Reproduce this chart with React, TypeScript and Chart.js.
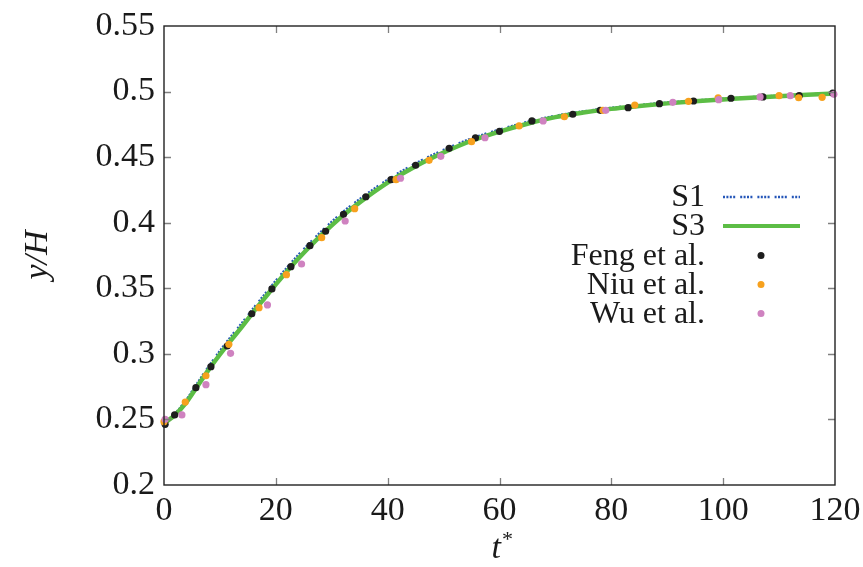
import React, { useEffect, useRef } from "react";
import { Chart, registerables } from "chart.js";

Chart.register(...registerables);

// Simulation curves
const curveT = [0, 2, 4, 6, 8, 10, 12, 14, 16, 18, 20, 22, 24, 26, 28, 30, 32, 35, 40, 45, 50, 55, 60, 65, 70, 75, 80, 85, 90, 95, 100, 105, 110, 115, 120];
const s3Values = [0.247, 0.2535, 0.263, 0.2755, 0.288, 0.2995, 0.3105, 0.321, 0.332, 0.3425, 0.353, 0.363, 0.3725, 0.3815, 0.390, 0.398, 0.4055, 0.4155, 0.4305, 0.443, 0.4535, 0.4625, 0.4695, 0.4755, 0.4805, 0.484, 0.4868, 0.489, 0.491, 0.4927, 0.494, 0.4953, 0.4965, 0.4975, 0.4985];
const s1Values = [0.247, 0.2545, 0.265, 0.2778, 0.2905, 0.3022, 0.3133, 0.3238, 0.3348, 0.3453, 0.3558, 0.3658, 0.3753, 0.3843, 0.3928, 0.4007, 0.4082, 0.418, 0.4328, 0.4452, 0.4555, 0.4642, 0.471, 0.4768, 0.4815, 0.4849, 0.4876, 0.4897, 0.4916, 0.4932, 0.4945, 0.4957, 0.4968, 0.4978, 0.4987];

// Reference data: Feng et al.
const fengT = [0.2, 1.9, 5.7, 8.4, 11.3, 15.7, 19.3, 22.7, 26.1, 28.9, 32.1, 36.1, 40.6, 45.0, 51.0, 55.7, 60.0, 65.8, 73.1, 78.0, 83.0, 88.6, 94.7, 101.4, 107.1, 113.6, 119.6];
const fengY = [0.2463, 0.2534, 0.2742, 0.2902, 0.3060, 0.3306, 0.3495, 0.3665, 0.3825, 0.3935, 0.4064, 0.4198, 0.4328, 0.4438, 0.4567, 0.4648, 0.4697, 0.4776, 0.4827, 0.4857, 0.4877, 0.4908, 0.4928, 0.4949, 0.4959, 0.4969, 0.4989];

// Niu et al.
const niuT = [0.0, 3.8, 7.5, 11.6, 17.0, 21.9, 28.2, 34.1, 41.5, 47.4, 55.0, 63.5, 71.6, 78.5, 84.2, 93.8, 99.1, 110.0, 113.5, 117.7];
const niuY = [0.2483, 0.2633, 0.2833, 0.3073, 0.3352, 0.3604, 0.3886, 0.4107, 0.4328, 0.4476, 0.4618, 0.4738, 0.4808, 0.4857, 0.4897, 0.4926, 0.4953, 0.4969, 0.4953, 0.4956];

// Wu et al.
const wuT = [0.2, 3.2, 7.5, 11.9, 18.5, 24.6, 32.4, 42.3, 49.5, 57.4, 67.8, 79.0, 91.0, 99.2, 106.6, 112.0, 119.8];
const wuY = [0.2501, 0.2534, 0.2765, 0.3004, 0.3373, 0.3685, 0.4013, 0.4339, 0.4506, 0.4648, 0.4776, 0.4857, 0.4918, 0.4938, 0.4959, 0.4969, 0.4979];

const xTicks = [0, 20, 40, 60, 80, 100, 120];
const yTicks = [0.2, 0.25, 0.3, 0.35, 0.4, 0.45, 0.5, 0.55];

const FONT = "'Liberation Serif', 'DejaVu Serif', serif";
const FS = 34;
const LFS = 32;
const BLUE = "#2456b8";
const GREEN = "#5cbd45";
const BLACK = "#1e1e1e";
const ORANGE = "#f7a11e";
const PINK = "#cf82c0";
const S1_DASH = [2, 1.4, 2, 1.4, 2, 1.4, 2, 5];

const zip = (xs: number[], ys: number[]) => xs.map((x, i) => ({ x, y: ys[i] }));

const framePlugin = {
  id: "frame",
  afterDraw(chart: any) {
    const { ctx, chartArea } = chart;
    const { left, right, top, bottom } = chartArea;
    const xs = chart.scales.x;
    const ys = chart.scales.y;
    ctx.save();
    // ticks
    ctx.strokeStyle = "#808080";
    ctx.lineWidth = 1.3;
    const tl = 7;
    ctx.beginPath();
    xTicks.forEach((v) => {
      const px = Math.round(xs.getPixelForValue(v)) + 0.5;
      if (v === xTicks[0] || v === xTicks[xTicks.length - 1]) return;
      ctx.moveTo(px, bottom);
      ctx.lineTo(px, bottom - tl);
      ctx.moveTo(px, top);
      ctx.lineTo(px, top + tl);
    });
    yTicks.forEach((v) => {
      const py = Math.round(ys.getPixelForValue(v)) + 0.5;
      if (v === yTicks[0] || v === yTicks[yTicks.length - 1]) return;
      ctx.moveTo(left, py);
      ctx.lineTo(left + tl, py);
      ctx.moveTo(right, py);
      ctx.lineTo(right - tl, py);
    });
    ctx.stroke();
    // frame
    ctx.strokeStyle = "#222";
    ctx.lineWidth = 1.4;
    ctx.strokeRect(left, top, right - left, bottom - top);

    // legend
    const textRight = 705;
    const lineL = 723;
    const lineR = 800;
    const dotX = 761;
    const rows = [197, 226, 255.5, 284.5, 313.5];
    ctx.font = `${LFS}px ${FONT}`;
    ctx.fillStyle = "#1a1a1a";
    ctx.textAlign = "right";
    ctx.textBaseline = "middle";
    const labels = ["S1", "S3", "Feng et al.", "Niu et al.", "Wu et al."];
    labels.forEach((l, i) => ctx.fillText(l, textRight, rows[i] + 1));
    ctx.lineWidth = 2.5;
    ctx.strokeStyle = BLUE;
    ctx.setLineDash(S1_DASH);
    ctx.beginPath();
    ctx.moveTo(lineL, rows[0]);
    ctx.lineTo(lineR, rows[0]);
    ctx.stroke();
    ctx.setLineDash([]);
    ctx.lineWidth = 4;
    ctx.strokeStyle = GREEN;
    ctx.beginPath();
    ctx.moveTo(lineL, rows[1]);
    ctx.lineTo(lineR, rows[1]);
    ctx.stroke();
    [BLACK, ORANGE, PINK].forEach((c, i) => {
      ctx.fillStyle = c;
      ctx.beginPath();
      ctx.arc(dotX, rows[2 + i], 3.5, 0, Math.PI * 2);
      ctx.fill();
    });

    // axis titles
    ctx.fillStyle = "#1a1a1a";
    ctx.textAlign = "center";
    ctx.textBaseline = "middle";
    ctx.save();
    ctx.translate(38, 255);
    ctx.rotate(-Math.PI / 2);
    ctx.font = `italic ${FS}px ${FONT}`;
    ctx.fillText("y/H", 0, 0);
    ctx.restore();
    ctx.font = `italic ${FS}px ${FONT}`;
    ctx.textAlign = "right";
    ctx.fillText("t", 501, 549);
    ctx.font = `22px ${FONT}`;
    ctx.textAlign = "left";
    ctx.fillText("*", 502, 540);
    ctx.restore();
  },
};

export default function App() {
  const ref = useRef<HTMLCanvasElement | null>(null);
  useEffect(() => {
    if (!ref.current) return;
    const pointDs = (label: string, xs: number[], ys: number[], color: string, order: number) => ({
      label,
      data: zip(xs, ys),
      showLine: false,
      pointRadius: 3.6,
      pointHoverRadius: 3.6,
      pointBackgroundColor: color,
      pointBorderWidth: 0,
      borderColor: color,
      backgroundColor: color,
      clip: false as any,
      order,
    });
    const chart = new Chart(ref.current, {
      type: "scatter",
      data: {
        datasets: [
          {
            label: "S1",
            data: zip(curveT, s1Values),
            showLine: true,
            borderColor: BLUE,
            borderWidth: 2.5,
            borderDash: S1_DASH,
            pointRadius: 0,
            cubicInterpolationMode: "monotone",
            clip: false as any,
            order: 5,
          } as any,
          {
            label: "S3",
            data: zip(curveT, s3Values),
            showLine: true,
            borderColor: GREEN,
            borderWidth: 4.5,
            pointRadius: 0,
            cubicInterpolationMode: "monotone",
            clip: false as any,
            order: 4,
          } as any,
          pointDs("Feng et al.", fengT, fengY, BLACK, 3),
          pointDs("Niu et al.", niuT, niuY, ORANGE, 2),
          pointDs("Wu et al.", wuT, wuY, PINK, 1),
        ],
      },
      options: {
        responsive: false,
        animation: false,
        layout: { padding: { left: 0, right: 28, top: 26, bottom: 0 } },
        plugins: { legend: { display: false }, tooltip: { enabled: false } },
        scales: {
          x: {
            type: "linear",
            min: 0,
            max: 120,
            grid: { display: false },
            border: { display: false },
            afterBuildTicks: (s: any) => {
              s.ticks = xTicks.map((v) => ({ value: v }));
            },
            afterFit: (s: any) => {
              s.height = 82;
              s.paddingRight = 0;
              s.paddingLeft = 0;
            },
            ticks: {
              color: "#1a1a1a",
              padding: -2,
              maxRotation: 0,
              autoSkip: false,
              font: { family: FONT, size: FS },
              callback: (v: any) => String(v),
            },
          },
          y: {
            type: "linear",
            min: 0.2,
            max: 0.55,
            grid: { display: false },
            border: { display: false },
            afterBuildTicks: (s: any) => {
              s.ticks = yTicks.map((v) => ({ value: v }));
            },
            afterFit: (s: any) => {
              s.width = 164;
              s.paddingTop = 0;
              s.paddingBottom = 0;
            },
            ticks: {
              color: "#1a1a1a",
              padding: 1,
              autoSkip: false,
              font: { family: FONT, size: FS },
              callback: (v: any) => String(Math.round(Number(v) * 100) / 100),
            },
          },
        },
      },
      plugins: [framePlugin],
    } as any);
    return () => chart.destroy();
  }, []);
  return (
    <div style={{ position: "fixed", left: 0, top: 0, width: 863, height: 567, background: "#fff" }}>
      <canvas ref={ref} width={863} height={567} style={{ display: "block" }} />
    </div>
  );
}
